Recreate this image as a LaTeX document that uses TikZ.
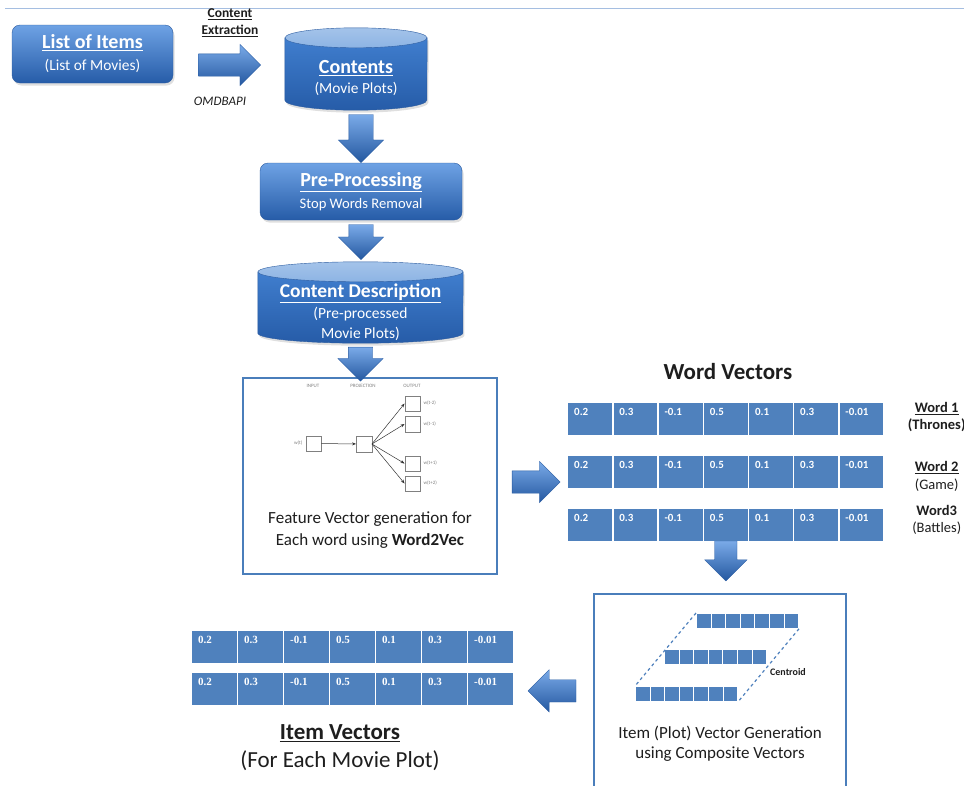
\documentclass[tikz,border=0pt]{standalone}
\usepackage{fontspec}
\setmainfont{Carlito}
\newfontfamily\serifnum{Liberation Serif}
\usetikzlibrary{arrows.meta,positioning,shapes.geometric,shapes.arrows,calc,shadows}
\definecolor{boxtop}{RGB}{110,162,228}
\definecolor{boxmid}{RGB}{62,124,204}
\definecolor{boxbot}{RGB}{38,92,168}
\definecolor{boxedge}{RGB}{44,92,160}
\definecolor{cylbody}{RGB}{64,126,206}
\definecolor{cylend}{RGB}{141,180,228}
\definecolor{cellblue}{RGB}{79,129,189}
\definecolor{frameblue}{RGB}{74,126,187}
\definecolor{arrowlight}{RGB}{122,170,232}
\definecolor{arrowmid}{RGB}{64,128,208}
\definecolor{arrowdark}{RGB}{36,88,160}
\definecolor{rulecol}{RGB}{165,190,225}
\definecolor{inkgray}{RGB}{30,30,30}

\newcommand{\setfs}[2]{\fontsize{#1}{#2}\selectfont}
% one row of seven vector cells
\newcommand{\vecrow}[6]{%
  \foreach \val [count=\k] in {0.2,0.3,-0.1,0.5,0.1,0.3,-0.01} {
    \node[vcell, minimum width=#4, minimum height=#5] (#1-\k) at ({#2+(\k-1)*#4},#3) {};
    \node[numtext, font=#6] (#1-\k-t) at ([xshift=7pt,yshift=-13pt]#1-\k.north west) {\val};
  }%
}
% small bar of seven cells (composite vectors)
\newcommand{\minibar}[3]{%
  \foreach \k in {1,...,7}
    \node[minicell] (#1-\k) at ({#2+(\k-1)*14.6},#3) {};
}
% database drum drawn over a placed node
\newcommand{\storebody}[3]{%
  \path[top color=cylbody, bottom color=boxbot, draw=boxedge, drop shadow={opacity=0.25,shadow xshift=1.5pt,shadow yshift=-2.5pt}]
    ([yshift=-#3]#1.north west) -- ([yshift=#3]#1.south west)
    arc[start angle=180, end angle=360, x radius=#2, y radius=#3]
    -- ([yshift=-#3]#1.north east) -- cycle;
  \draw[boxedge, top color=cylend!80!white, bottom color=cylend] ([yshift=-#3]#1.north) ellipse[x radius=#2, y radius=#3];
}

\begin{document}
\begin{tikzpicture}[
  x=1pt, y=-1pt,
  every node/.style={inner sep=0pt},
  procbox/.style={draw=boxedge, rounded corners=8pt, top color=boxtop, middle color=boxmid,
                  bottom color=boxbot, text=white, align=center,
                  drop shadow={opacity=0.25,shadow xshift=1.5pt,shadow yshift=-2.5pt}},
  store/.style={minimum width=#1},
  storetext/.style={text=white, align=center},
  panel/.style={draw=frameblue, line width=2.2pt, fill=white},
  blockarrow/.style={single arrow, single arrow head indent=0pt, draw=arrowdark,
                     line width=0.3pt, inner xsep=0pt},
  arrowR/.style n args={3}{blockarrow, minimum height=#1, inner ysep=#2, single arrow head extend=#3,
                           top color=arrowlight, middle color=arrowmid, bottom color=arrowdark},
  arrowD/.style n args={3}{arrowR={#1}{#2}{#3}, rotate=-90},
  arrowL/.style n args={3}{arrowR={#1}{#2}{#3}, rotate=180},
  vcell/.style={draw=white, line width=1.3pt, fill=cellblue, anchor=north west},
  numtext/.style={text=white, anchor=base west},
  minicell/.style={draw=white, line width=0.8pt, fill=cellblue, minimum width=14.6,
                   minimum height=15, anchor=north west},
  nnbox/.style={draw=gray, fill=white, minimum size=15.5},
  nnlab/.style={font=\setfs{5pt}{6pt}, text=gray},
  nnarrow/.style={-{Stealth[length=4pt,width=3pt]}, black!80, line width=0.5pt},
  lab/.style={text=inkgray, align=center},
]
  \useasboundingbox (0,0) rectangle (964,785);
  \clip (0,0) rectangle (964,785);

  % top rule
  \draw[rulecol, line width=1pt] (5,8) -- (964,8);

  % Source list and contents
  \node[procbox, minimum width=161, minimum height=58, font=\setfs{15.4pt}{22pt}] (items) at (92.5,54)
    {{\setfs{20pt}{22pt}\bfseries\underline{List of Items}}\\(List of Movies)};
  \node[store=142, minimum height=82] (contents) at (356,69) {};
  \storebody{contents}{71pt}{10pt}
  \node[storetext, font=\setfs{15.4pt}{20pt}] (contents-txt) at ([yshift=-9pt]contents.center)
    {{\setfs{20pt}{20pt}\bfseries\underline{Contents}}\\(Movie Plots)};
  \path (items.east) -- (items.east -| contents.west)
    node[midway, xshift=-5pt, yshift=-11pt, arrowR={62}{11}{9.5}] (a1) {};
  \node[lab, font=\setfs{13.5pt}{17pt}\bfseries] (extr) at (230,23) {\underline{Content}\\\underline{Extraction}};
  \node[lab, font=\setfs{13pt}{15pt}\itshape] (api) at (220,101) {OMDBAPI};

  % Pre-processing
  \node[procbox, minimum width=202, minimum height=57, font=\setfs{14.6pt}{22pt}] (pre) at (361,191.5)
    {{\setfs{20pt}{22pt}\bfseries\underline{Pre-Processing}}\\Stop Words Removal};
  \path (pre.north |- contents.south) -- (pre.north)
    node[midway, yshift=4pt, arrowD={48}{12}{10.5}] (a2) {};

  % Content description
  \node[store=205, minimum height=81] (cd) at (360.5,302.5) {};
  \storebody{cd}{102.5pt}{10pt}
  \node[storetext, font=\setfs{15.5pt}{20.5pt}] (cd-txt) at ([yshift=-10pt]cd.center)
    {{\setfs{19.5pt}{20.5pt}\bfseries\underline{Content Description}}\\(Pre-processed\\Movie Plots)};
  \path (pre.south) -- (pre.south |- cd.north)
    node[midway, yshift=5pt, arrowD={35}{12}{10.5}] (a3) {};

  % Word2Vec panel
  \node[panel, minimum width=254, minimum height=196] (w2v) at (370,476) {};
  \path (cd.south) -- (cd.south |- w2v.north)
    node[midway, yshift=2pt, arrowD={34}{12}{10.5}] (a4) {};
  \node[nnlab] (l-in) at (313,386) {INPUT};
  \node[nnlab] (l-proj) at (363,386) {PROJECTION};
  \node[nnlab] (l-out) at (412,386) {OUTPUT};
  \node[nnbox] (win) at (313.5,443.5) {};
  \node[nnbox] (proj) at (364,444) {};
  \node[nnbox] (o1) at (412.5,403.5) {};
  \node[nnbox] (o2) at (412.5,424) {};
  \node[nnbox] (o3) at (412.5,463.5) {};
  \node[nnbox] (o4) at (412.5,483.5) {};
  \node[nnlab, left=3pt of win] (l-wt) {w(t)};
  \node[nnlab, right=3pt of o1] (l-o1) {w(t-2)};
  \node[nnlab, right=3pt of o2] (l-o2) {w(t-1)};
  \node[nnlab, right=3pt of o3] (l-o3) {w(t+1)};
  \node[nnlab, right=3pt of o4] (l-o4) {w(t+2)};
  \draw[nnarrow] (win) -- (proj);
  \foreach \o in {o1,o2,o3,o4}
    \draw[nnarrow] (proj.east) -- (\o.west);
  \node[lab, font=\setfs{17pt}{22pt}] (w2v-txt) at (370,530)
    {Feature Vector generation for\\Each word using \textbf{Word2Vec}};

  % Word vectors
  \node[lab, font=\setfs{23pt}{26pt}\bfseries] (wv-title) at (728,372) {Word Vectors};
  \vecrow{wv1}{567}{402}{45.2}{32.5}{\setfs{11pt}{13pt}\bfseries}
  \vecrow{wv2}{567}{455}{45.2}{32.5}{\setfs{11pt}{13pt}\bfseries}
  \vecrow{wv3}{567}{508}{45.2}{32.5}{\setfs{11pt}{13pt}\bfseries}
  \node[lab, font=\setfs{14.5pt}{17pt}\bfseries] (wl1) at ([xshift=52pt,yshift=2pt]wv1-7.east)
    {\underline{Word 1}\\(Thrones)};
  \node[lab, font=\setfs{14.5pt}{18pt}] (wl2) at ([xshift=52pt,yshift=-5pt]wv2-7.east)
    {\textbf{\underline{Word 2}}\\(Game)};
  \node[lab, font=\setfs{14.5pt}{17pt}] (wl3) at ([xshift=52pt,yshift=5pt]wv3-7.east)
    {\textbf{Word3}\\(Battles)};
  \path (w2v.east) -- (w2v.east -| wv2-1.west)
    node[midway, xshift=-2pt, yshift=-6pt, arrowR={48}{11}{9.5}] (a5) {};

  % Composite vectors panel
  \node[panel, minimum width=252, minimum height=193] (comp) at (720,690.5) {};
  \path (wv3-4.south) -- (wv3-4.south |- comp.north)
    node[midway, yshift=12pt, arrowD={40}{11}{10}] (a6) {};
  \minibar{bt}{696}{613}
  \minibar{bm}{664}{649}
  \minibar{bb}{635}{686}
  \draw[cellblue, dashed, line width=1.2pt] (bt-1.north west) -- (bb-1.north west);
  \draw[cellblue, dashed, line width=1.2pt] (bt-7.south east) -- (bb-7.south east);
  \node[lab, font=\setfs{10pt}{12pt}\bfseries] (centroid) at (788,672) {Centroid};
  \node[lab, font=\setfs{17pt}{20pt}] (comp-txt) at (720,744)
    {Item (Plot) Vector Generation\\using Composite Vectors};

  % Item vectors
  \vecrow{iv1}{191}{630}{46}{32.5}{\serifnum\setfs{11pt}{13pt}\bfseries}
  \vecrow{iv2}{191}{672}{46}{32.5}{\serifnum\setfs{11pt}{13pt}\bfseries}
  \path (iv2-7.east) -- (iv2-7.east -| comp.west)
    node[midway, xshift=4pt, yshift=-2pt, arrowL={48}{11}{10}] (a7) {};
  \node[lab, font=\setfs{23pt}{28pt}] (iv-title) at (340,748)
    {{\bfseries\underline{Item Vectors}}\\(For Each Movie Plot)};
\end{tikzpicture}
\end{document}
